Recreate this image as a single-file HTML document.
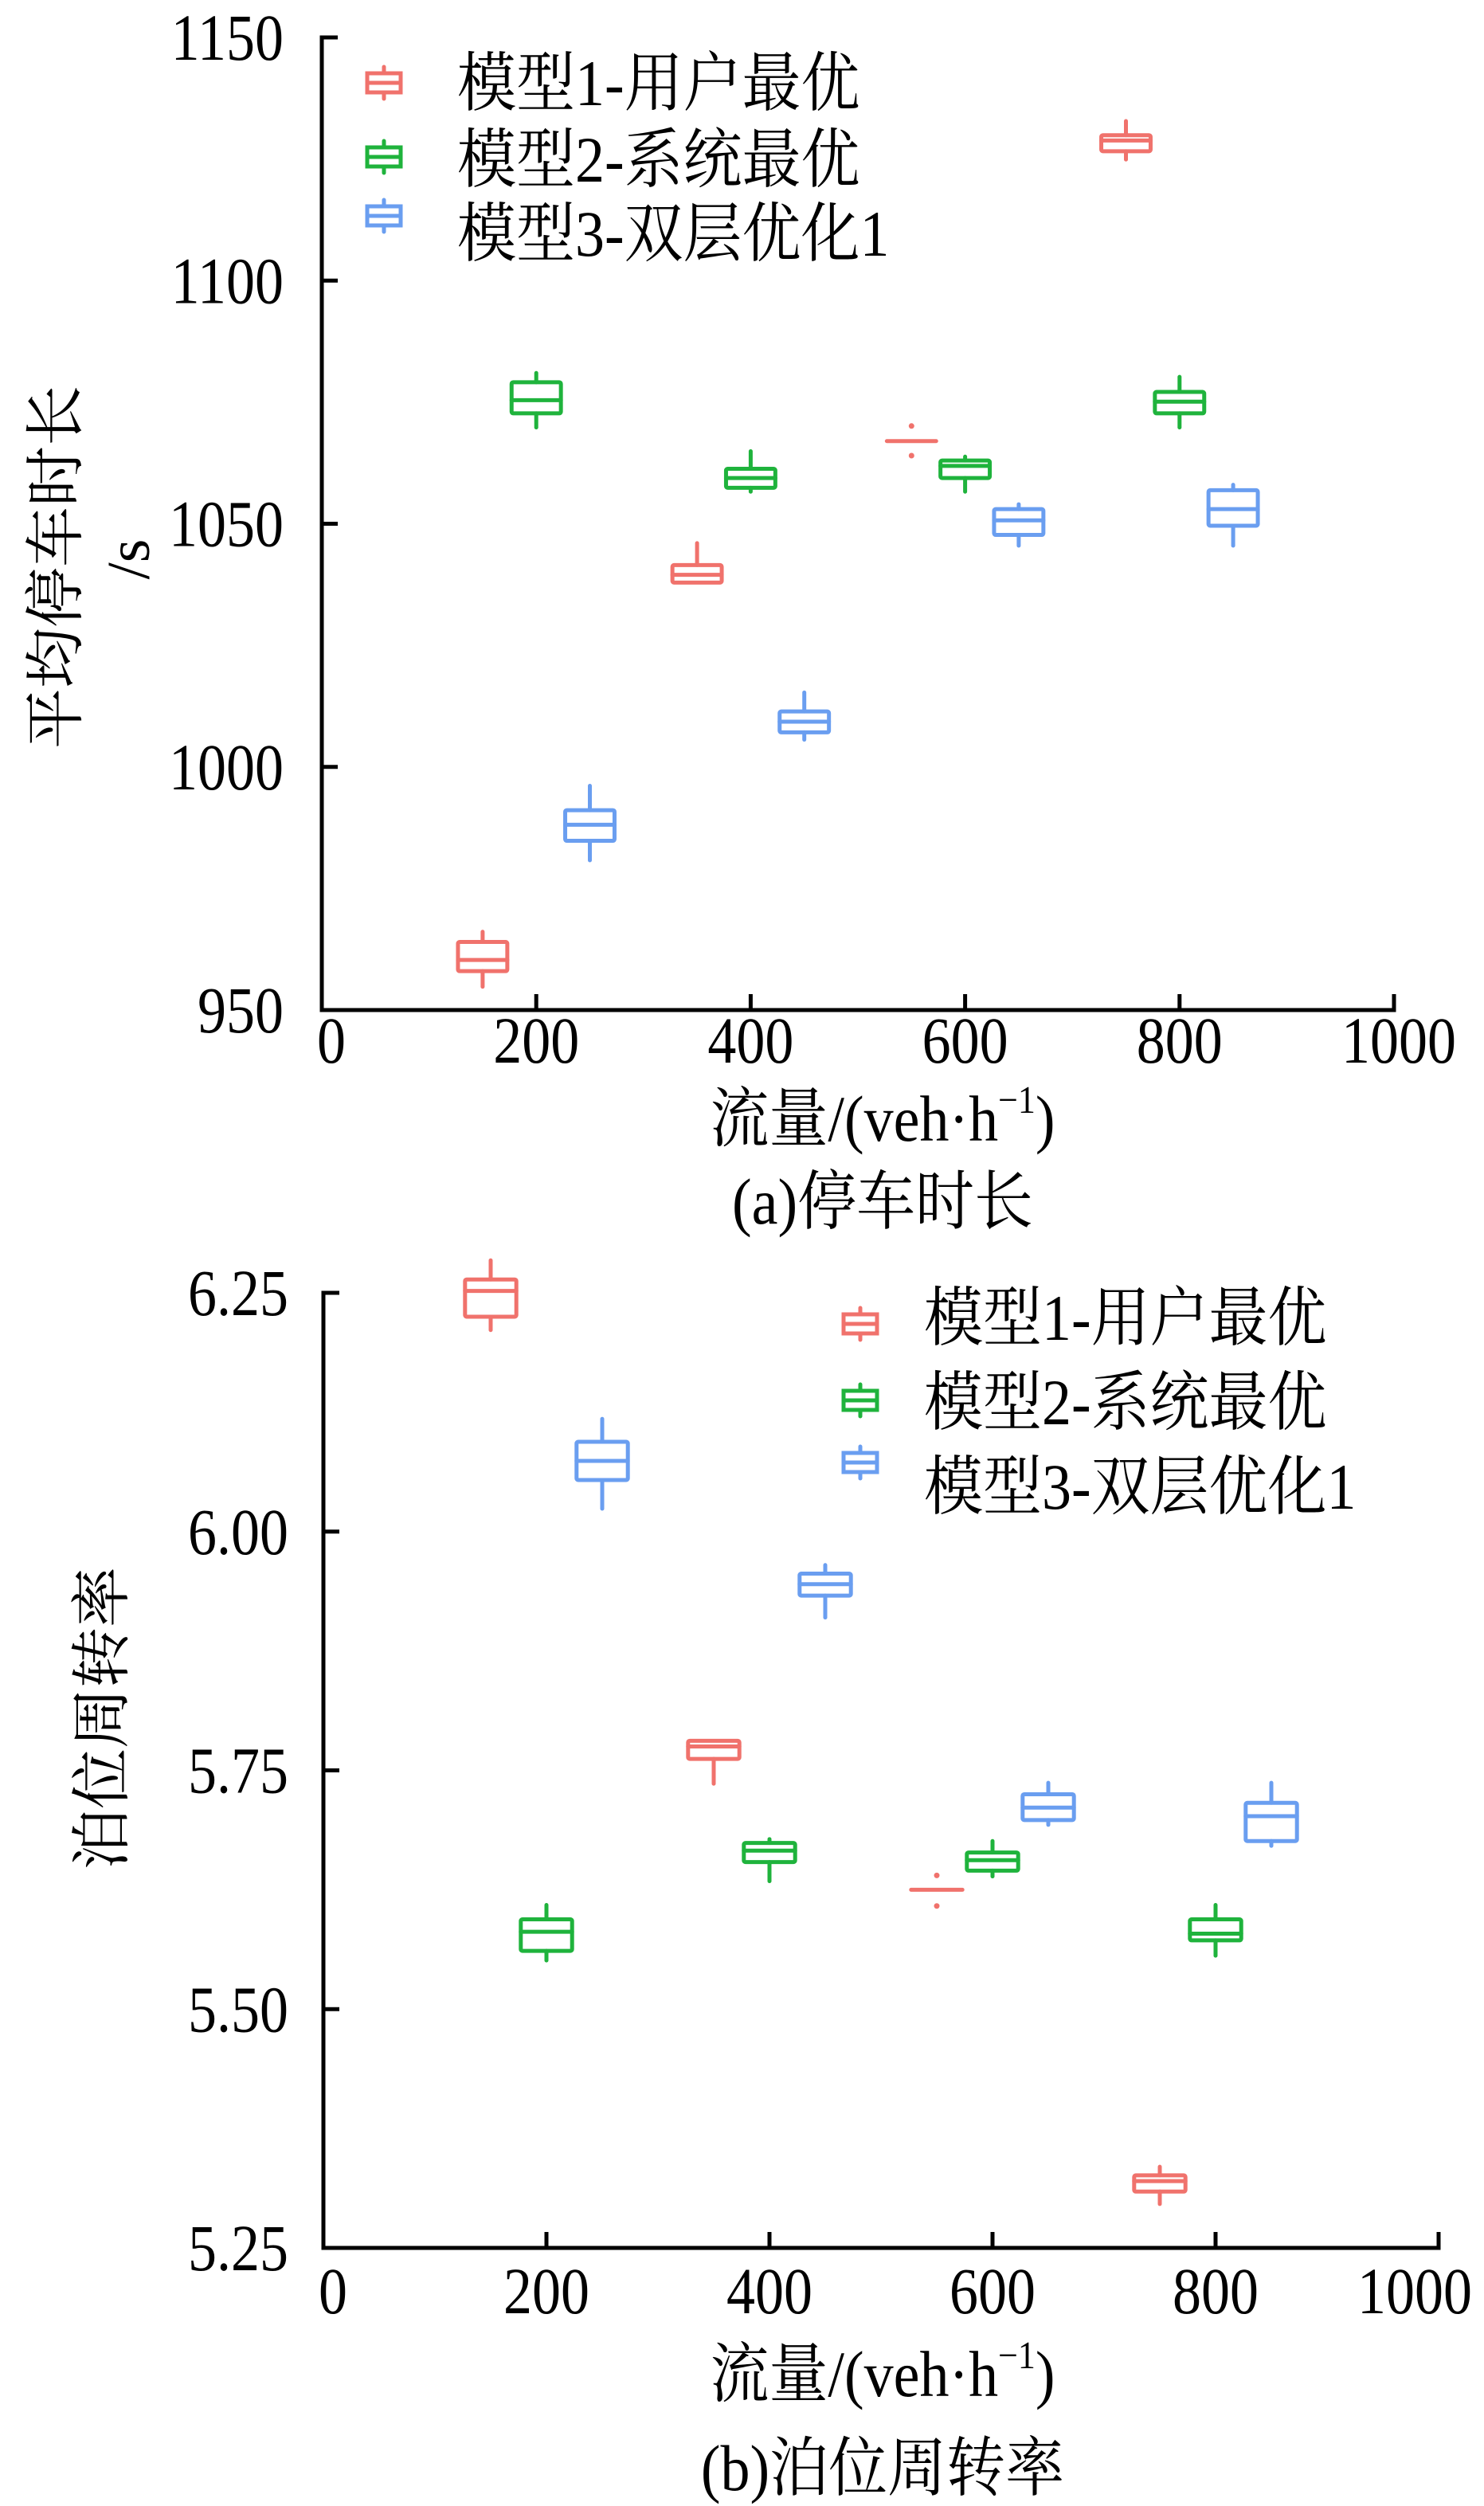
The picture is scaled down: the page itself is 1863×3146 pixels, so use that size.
<!DOCTYPE html>
<html><head><meta charset="utf-8"><style>
html,body{margin:0;padding:0;background:#fff}
svg{display:block}
text{font-family:"Liberation Serif","Noto Serif CJK SC",serif;fill:#000}
</style></head><body>
<svg id="svg" width="1863" height="3146" viewBox="0 0 1863 3146" xmlns="http://www.w3.org/2000/svg">
<g id="chartA"></g>
<g id="chartB"></g>
</svg>
<script>
// ---- Data ----
const seriesNames = ["模型1-用户最优","模型2-系统最优","模型3-双层优化1"];
const seriesColors = ["#f0726c","#1fb33c","#6a9ef0"];
const xTicks = [0,200,400,600,800,1000];
// chart A: stop duration
const aX = [[150,350,550,750],[200,400,600,800],[250,450,650,850]];
const aQ1 = [[958.0,1037.9,1067.0,1126.6],[1072.7,1057.4,1059.4,1072.7],[984.8,1007.1,1047.7,1049.6]];
const aMed = [[960.3,1039.5,1067.0,1128.8],[1075.4,1059.4,1061.9,1075.1],[988.1,1009.3,1050.7,1053.0]];
const aQ3 = [[964.0,1041.5,1067.0,1129.9],[1079.1,1061.3,1063.0,1077.1],[991.1,1011.4,1053.0,1056.9]];
const aLo = [[954.8,1037.9,1067.0,1124.9],[1069.8,1056.6,1056.6,1069.8],[980.8,1005.6,1045.5,1045.5]];
const aHi = [[966.1,1046.0,1067.0,1132.8],[1081.0,1064.9,1063.8,1080.2],[996.1,1015.3,1054.0,1058.0]];
const aOutliers = [[550,1070.1],[550,1064.0]];
const aYTicks = [950,1000,1050,1100,1150];
const aYLabels = ["950","1000","1050","1100","1150"];
// chart B: berth turnover
const bX = [[150,350,550,750],[200,400,600,800],[250,450,650,850]];
const bQ1 = [[6.225,5.762,5.625,5.309],[5.561,5.654,5.645,5.572],[6.054,5.933,5.698,5.676]];
const bMed = [[6.252,5.775,5.625,5.320],[5.581,5.666,5.656,5.579],[6.074,5.945,5.711,5.702]];
const bQ3 = [[6.264,5.781,5.625,5.326],[5.594,5.674,5.664,5.594],[6.094,5.956,5.725,5.716]];
const bLo = [[6.211,5.736,5.625,5.296],[5.551,5.634,5.639,5.556],[6.024,5.910,5.693,5.671]];
const bHi = [[6.284,5.781,5.625,5.335],[5.609,5.678,5.676,5.609],[6.118,5.965,5.737,5.737]];
const bOutliers = [[550,5.640],[550,5.608]];
const bYTicks = [5.25,5.5,5.75,6.0,6.25];
const bYLabels = ["5.25","5.50","5.75","6.00","6.25"];

const NS="http://www.w3.org/2000/svg";
function mk(tag,attrs,parent){const e=document.createElementNS(NS,tag);for(const k in attrs)e.setAttribute(k,attrs[k]);parent.appendChild(e);return e;}

function drawChart(g,cfg){
  const sx=v=>cfg.x0+(v-0)/1000*(cfg.x1-cfg.x0);
  const sy=v=>cfg.yb+(v-cfg.ymin)/(cfg.ymax-cfg.ymin)*(cfg.yt-cfg.yb);
  const ax=mk('path',{d:`M${cfg.x0+20},${cfg.yt} H${cfg.x0} V${cfg.yb} H${cfg.x1} V${cfg.yb-20}`,fill:'none',stroke:'#000','stroke-width':5},g);
  
  
  cfg.yTicks.forEach((t,i)=>{
    const y=sy(t);
    const tk=mk('line',{x1:cfg.x0,x2:cfg.x0+20,y1:y,y2:y,stroke:'#000','stroke-width':5},g);
    
    
    const tx=mk('text',{x:0,y:0,'text-anchor':'end','font-size':72,transform:`translate(${cfg.ylabX},${y+28}) scale(1,1.15)`},g);
    tx.textContent=cfg.yLabels[i];
    
    
  });
  xTicks.forEach(t=>{
    const x=sx(t);
    if(t>0&&t<1000){const tk=mk('line',{x1:x,x2:x,y1:cfg.yb,y2:cfg.yb-20,stroke:'#000','stroke-width':5},g);
    
    }
    let off=t===0?12:0; if(t===1000) off=cfg.lastOff;
    const tx=mk('text',{x:0,y:0,'text-anchor':'middle','font-size':72,transform:`translate(${x+off},${cfg.xlabY}) scale(1,1.15)`},g);
    tx.textContent=String(t);
    
    
  });
  const bw=(cfg.x1-cfg.x0)*0.046;
  for(let s=0;s<3;s++){
    const c=seriesColors[s];
    for(let i=0;i<cfg.X[s].length;i++){
      const bg=mk('g',{stroke:c,'stroke-width':5,fill:'none','stroke-linecap':'round'},g);
      
      
      const x=sx(cfg.X[s][i]);
      const q1=sy(cfg.Q1[s][i]),q3=sy(cfg.Q3[s][i]),md=sy(cfg.Med[s][i]),lo=sy(cfg.Lo[s][i]),hi=sy(cfg.Hi[s][i]);
      if(hi<q3-1)mk('line',{x1:x,x2:x,y1:hi,y2:q3},bg);
      if(lo>q1+1)mk('line',{x1:x,x2:x,y1:q1,y2:lo},bg);
      if(Math.abs(q1-q3)<1){mk('line',{x1:x-bw/2,x2:x+bw/2,y1:md,y2:md},bg);}
      else{mk('rect',{x:x-bw/2,y:q3,width:bw,height:q1-q3,rx:2},bg);
      mk('line',{x1:x-bw/2,x2:x+bw/2,y1:md,y2:md},bg);}
    }
  }
  cfg.out.forEach(o=>{
    const d=mk('circle',{cx:sx(o[0]),cy:sy(o[1]),r:3.5,fill:seriesColors[0]},g);
    
    
  });
  for(let s=0;s<3;s++){
    const lg=mk('g',{},g);
    
    
    const mx=cfg.legX, my=cfg.legMY[s];
    const mg=mk('g',{stroke:seriesColors[s],'stroke-width':5,fill:'none','stroke-linecap':'round'},lg);
    mk('rect',{x:mx-21,y:my-12,width:42,height:24},mg);
    mk('line',{x1:mx-21,x2:mx+21,y1:my,y2:my},mg);
    mk('line',{x1:mx,x2:mx,y1:my-20,y2:my-12},mg);
    mk('line',{x1:mx,x2:mx,y1:my+12,y2:my+20},mg);
    const t=mk('text',{x:0,y:0,'font-size':74,transform:`translate(${cfg.legTX},${cfg.legTY[s]+28}) scale(1,1.1)`},lg);
    t.textContent=seriesNames[s];
  }
  const xt=mk('text',{x:0,y:0,'text-anchor':'middle','font-size':74,transform:`translate(${cfg.xtX},${cfg.xtY}) scale(1,1.1)`},g);
  xt.innerHTML='流量/(veh·h<tspan font-size="44" dy="-32">−1</tspan><tspan dy="32">)</tspan>';
  
  
  const cp=mk('text',{x:0,y:0,'text-anchor':'middle','font-size':74,transform:`translate(${cfg.xtX},${cfg.capY}) scale(1,1.1)`},g);
  cp.textContent=cfg.caption;
  
  
}

drawChart(document.getElementById('chartA'),{x0:404,x1:1750,yt:47,yb:1268,ymin:950,ymax:1150,
  yTicks:aYTicks,yLabels:aYLabels,ylabX:356,xlabY:1334,lastOff:6,
  X:aX,Q1:aQ1,Med:aMed,Q3:aQ3,Lo:aLo,Hi:aHi,out:aOutliers,
  legX:482,legMY:[104,197,271],legTX:574,legTY:[104,200,293],
  xtX:1108,xtY:1432,capY:1536,caption:'(a)停车时长'});
drawChart(document.getElementById('chartB'),{x0:406,x1:1806,yt:1623,yb:2822,ymin:5.25,ymax:6.25,
  yTicks:bYTicks,yLabels:bYLabels,ylabX:362,xlabY:2904,lastOff:-30,
  X:bX,Q1:bQ1,Med:bMed,Q3:bQ3,Lo:bLo,Hi:bHi,out:bOutliers,
  legX:1080,legMY:[1662,1758,1836],legTX:1160,legTY:[1654,1760,1866],
  xtX:1108,xtY:3008,capY:3126,caption:'(b)泊位周转率'});

const s=document.getElementById('svg');
function addText(txt,x,y,name){const t=document.createElementNS(NS,'text');t.setAttribute('x',x);t.setAttribute('y',y);t.setAttribute('font-size','76');t.setAttribute('text-anchor','middle');t.setAttribute('transform','rotate(-90 '+x+' '+y+')');t.textContent=txt;


s.appendChild(t);}
addText('平均停车时长',96,712,'y-axis-title-a');
addText('/s',187,702,'y-axis-unit-a');
addText('泊位周转率',154,2157,'y-axis-title-b');
</script>
</body></html>
